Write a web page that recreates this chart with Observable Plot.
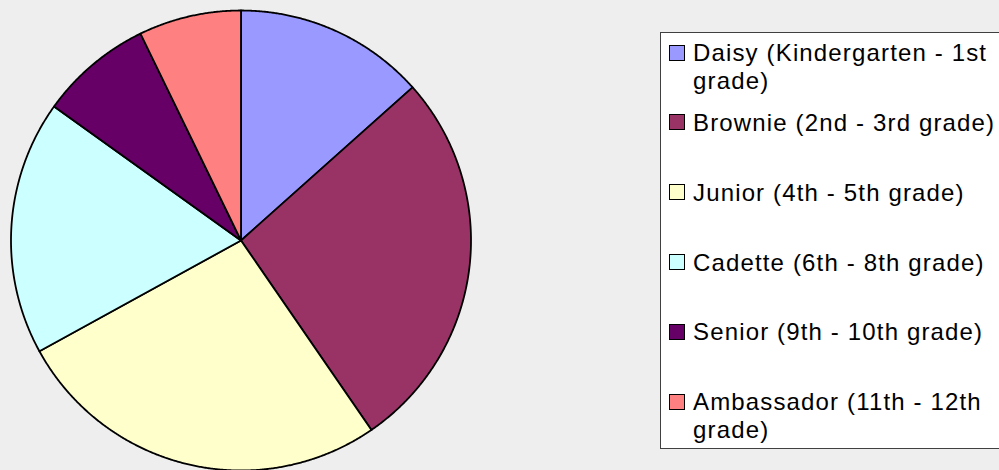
<!DOCTYPE html>
<html>
<head>
<meta charset="utf-8">
<script src="https://cdn.jsdelivr.net/npm/d3@7"></script>
<script src="https://cdn.jsdelivr.net/npm/@observablehq/plot@0.6"></script>
<style>
  html, body { margin: 0; padding: 0; background: #eeeeee; }
  #wrap { position: relative; width: 999px; height: 470px; overflow: hidden; background: #eeeeee;
          font-family: "Liberation Sans", Arial, sans-serif; }
  #wrap svg { position: absolute; left: 0; top: 0; }
  #legend { position: absolute; left: 660px; top: 32px; width: 360px; height: 417px; background: #ffffff;
            border: 1px solid #404040; box-sizing: border-box; }
  .item { position: absolute; left: 0; }
  .swatch { position: absolute; left: 8px; width: 14px; height: 14px; border: 1.5px solid #000; }
  .label { position: absolute; left: 32px; top: 0; font-size: 24px; line-height: 28px; letter-spacing: 1.15px;
           color: #000; white-space: nowrap; }
</style>
</head>
<body>
<div id="wrap"></div>
<script>
// ---- data ----
const categories = [
  "Daisy (Kindergarten - 1st grade)",
  "Brownie (2nd - 3rd grade)",
  "Junior (4th - 5th grade)",
  "Cadette (6th - 8th grade)",
  "Senior (9th - 10th grade)",
  "Ambassador (11th - 12th grade)"
];
const shares = [13.4, 27.0, 26.6, 17.9, 7.9, 7.2];   // percent of members
const colors = ["#9999ff", "#993366", "#ffffcc", "#ccffff", "#660066", "#ff8080"];
const legendLines = [
  ["Daisy (Kindergarten - 1st", "grade)"],
  ["Brownie (2nd - 3rd grade)"],
  ["Junior (4th - 5th grade)"],
  ["Cadette (6th - 8th grade)"],
  ["Senior (9th - 10th grade)"],
  ["Ambassador (11th - 12th", "grade)"]
];

// ---- build slices with d3.pie (clockwise from 12 o'clock, screen y downward) ----
const rows = categories.map((c, i) => ({name: c, share: shares[i]}));
const arcs = d3.pie().sort(null).value(d => d.share)(rows);
const features = arcs.map(p => {
  const pts = [[0, 0]];
  const n = Math.max(4, Math.ceil((p.endAngle - p.startAngle) / 0.005));
  for (let i = 0; i <= n; i++) {
    const a = p.startAngle + (p.endAngle - p.startAngle) * i / n;
    pts.push([Math.sin(a), -Math.cos(a)]);
  }
  pts.push([0, 0]);
  return {type: "Feature", properties: {name: p.data.name}, geometry: {type: "Polygon", coordinates: [pts]}};
});

const chart = Plot.plot({
  width: 999,
  height: 470,
  marginLeft: 10,
  marginRight: 528,
  marginTop: 10,
  marginBottom: 0,
  style: {background: "transparent", overflow: "visible"},
  projection: {
    type: "identity",
    domain: {type: "MultiPoint", coordinates: [[-1, -1], [1, 1]]}
  },
  color: {domain: categories, range: colors},
  marks: [
    Plot.geo(features, {fill: d => d.properties.name, stroke: "#000", strokeWidth: 1.8, strokeLinejoin: "round", clip: false})
  ]
});

const wrap = document.getElementById("wrap");
wrap.appendChild(chart);

// ---- legend ----
const legend = document.createElement("div");
legend.id = "legend";
wrap.appendChild(legend);
const firstBaseline = 61.5;   // absolute y of first legend line baseline
const step = 69.8;
categories.forEach((c, i) => {
  const item = document.createElement("div");
  item.className = "item";
  const base = firstBaseline + i * step - 33; // relative to legend content box
  const sw = document.createElement("div");
  sw.className = "swatch";
  sw.style.background = colors[i];
  sw.style.top = (base - 17) + "px";
  const lab = document.createElement("div");
  lab.className = "label";
  lab.style.top = (base - 22.3) + "px";
  lab.innerHTML = legendLines[i].join("<br>");
  item.appendChild(sw);
  item.appendChild(lab);
  legend.appendChild(item);
});
</script>
</body>
</html>
